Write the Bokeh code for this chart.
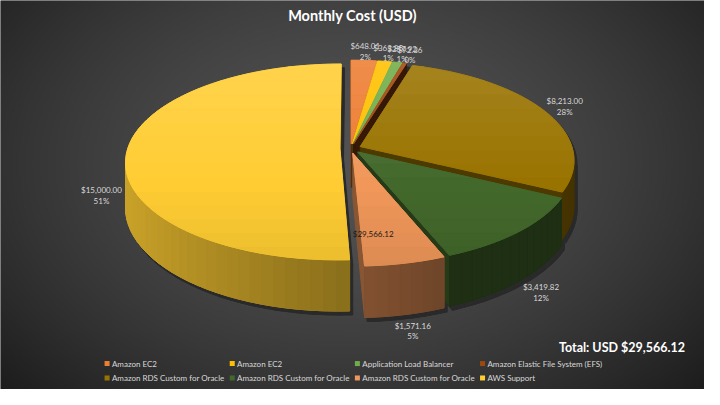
import numpy as np
from bokeh.plotting import figure
from bokeh.models import Range1d
from bokeh.embed import file_html
from bokeh.resources import INLINE
from bokeh.core.properties import value

# ---- data ----
services = ["Amazon EC2", "Amazon EC2", "Application Load Balancer",
            "Amazon Elastic File System (EFS)", "Amazon RDS Custom for Oracle",
            "Amazon RDS Custom for Oracle", "Amazon RDS Custom for Oracle", "AWS Support"]
costs = [648.01, 363.85, 257.92, 92.36, 8213.00, 3419.82, 1571.16, 15000.00]
colors = ["#ED7D31", "#FFC000", "#70AD47", "#9E480E",
          "#997300", "#43682B", "#F1975A", "#FFCD33"]
chart_title = "Monthly Cost (USD)"

# ---- pie geometry (reference pixel space, y down) ----
CX, CY = 358, 154
RA, RB = 217, 100
PERSP = 0.137
DEPTH = 46
EXPLODE = 0.05
FONT = "Lato"


def proj(u, v, z):
    f = 1.0 / (1 + PERSP * v)
    return CX + RA * u * f, 405 - (CY - RB * v * f + DEPTH * z * f)


def shade(c, k):
    rgb = [int(c[i:i + 2], 16) for i in (1, 3, 5)]
    if k >= 0:
        rgb = [x + (255 - x) * k for x in rgb]
    else:
        rgb = [x * (1 + k) for x in rgb]
    return "#%02x%02x%02x" % tuple(int(round(min(255, max(0, x)))) for x in rgb)


def area(pts):
    s = 0
    for i in range(len(pts)):
        x0, y0 = pts[i - 1]
        x1, y1 = pts[i]
        s += x0 * y1 - x1 * y0
    return s / 2


def clip(poly, keep, cut):
    out = []
    for i in range(len(poly)):
        cur, prev = poly[i], poly[i - 1]
        if keep(cur):
            if not keep(prev):
                out.append(cut(prev, cur))
            out.append(cur)
        elif keep(prev):
            out.append(cut(prev, cur))
    return out


def band(poly, lo, hi):
    def at(yc):
        def f(a, b):
            t = (yc - a[1]) / (b[1] - a[1])
            return (a[0] + t * (b[0] - a[0]), yc)
        return f
    poly = clip(poly, lambda q: q[1] >= lo, at(lo))
    if poly:
        poly = clip(poly, lambda q: q[1] <= hi, at(hi))
    return poly


def wall_shade(col, t):
    return shade(col, np.clip(0.55 - 0.25 * np.sin(t), 0.45, 0.85) - 1)


p = figure(width=704, height=389, x_range=Range1d(0, 720), y_range=Range1d(0, 405),
           output_backend="svg", toolbar_location=None, min_border=0)
p.axis.visible = False
p.grid.visible = False
p.outline_line_color = None
p.background_fill_color = "#3a3a3a"
p.border_fill_color = "#3a3a3a"

# background radial gradient
ny, nx = 203, 360
rr, cc = np.mgrid[0:ny, 0:nx]
bx = (cc + 0.5) * 720 / nx
by = 405 - (rr + 0.5) * 405 / ny
d = np.sqrt(((bx - 360) / 470) ** 2 + ((by - 170) / 330) ** 2)
lev = np.clip(82 - 50 * d ** 1.6, 25, 90).astype(np.uint8)
img = np.empty((ny, nx), dtype=np.uint32)
view = img.view(dtype=np.uint8).reshape((ny, nx, 4))
view[:, :, 0] = lev
view[:, :, 1] = lev
view[:, :, 2] = lev
view[:, :, 3] = 255
p.image_rgba(image=[img], x=0, y=0, dw=720, dh=405)

# ---- build 3D pie faces ----
total = sum(costs)
fracs = np.array(costs) / total
edges = np.concatenate([[0], np.cumsum(fracs)]) * 2 * np.pi

side_faces = []   # (depth, [faces drawn together], ...)
top_faces = []
for i, col in enumerate(colors):
    a0, a1 = edges[i], edges[i + 1]
    mid = (a0 + a1) / 2
    ou, ov = EXPLODE * np.sin(mid), EXPLODE * np.cos(mid)
    n = max(2, int(np.ceil((a1 - a0) / np.radians(3)))) + 1
    arc = np.linspace(a0, a1, n)
    ru, rv = ou + np.sin(arc), ov + np.cos(arc)
    vis = []
    for k in range(n - 1):
        quad = [proj(ru[k], rv[k], 0), proj(ru[k + 1], rv[k + 1], 0),
                proj(ru[k + 1], rv[k + 1], 1), proj(ru[k], rv[k], 1)]
        if area(quad) > 0:
            vis.append(k)
            t = (arc[k] + arc[k + 1]) / 2
            side_faces.append(((rv[k] + rv[k + 1]) / 2, quad, wall_shade(col, t)))
    if vis:
        # one underlay for the whole visible wall, hides seams between strips
        ks = list(range(vis[0], vis[-1] + 2))
        under = [proj(ru[k], rv[k], 0) for k in ks] + [proj(ru[k], rv[k], 1) for k in ks[::-1]]
        tm = arc[(ks[0] + ks[-1]) // 2]
        side_faces.append((max(rv[k] for k in ks) + 0.001, under, wall_shade(col, tm)))
    start = [proj(ou, ov, 0), proj(ru[0], rv[0], 0), proj(ru[0], rv[0], 1), proj(ou, ov, 1)]
    end = [proj(ou, ov, 0), proj(ou, ov, 1), proj(ru[-1], rv[-1], 1), proj(ru[-1], rv[-1], 0)]
    for face, ang, nu in ((start, a0, -np.cos(a0)), (end, a1, np.cos(a1))):
        if area(face) > 0:
            fac = 0.45 - 0.12 * nu
            side_faces.append(((ov + ov + np.cos(ang)) / 2, face, shade(col, fac - 1)))
    top = [proj(ou, ov, 0)] + [proj(ru[k], rv[k], 0) for k in range(n - 1, -1, -1)]
    top_faces.append((top, col))

side_faces.sort(key=lambda f: -f[0])

# shadow
sh_x, sh_y = [], []
for _, pts, _ in side_faces:
    sh_x.append([q[0] + 3 for q in pts])
    sh_y.append([q[1] - 4 for q in pts])
for pts, _ in top_faces:
    sh_x.append([q[0] + 3 for q in pts])
    sh_y.append([q[1] - 4 for q in pts])
p.patches(sh_x, sh_y, fill_color="#2a2a2a", line_color="#2a2a2a", line_width=1.2)

p.patches([[q[0] for q in f[1]] for f in side_faces],
          [[q[1] for q in f[1]] for f in side_faces],
          fill_color=[f[2] for f in side_faces], line_color=[f[2] for f in side_faces],
          line_width=1.0)

# top faces with a vertical light gradient
y_lo, y_hi = 405 - 285, 405 - 55
nb = 16
tx, ty, tc = [], [], []
for pts, col in top_faces:
    tx.append([q[0] for q in pts])
    ty.append([q[1] for q in pts])
    tc.append(shade(col, 0.02))
    for b in range(nb):
        lo = y_lo + (y_hi - y_lo) * b / nb
        hi = y_lo + (y_hi - y_lo) * (b + 1) / nb
        piece = band(pts, lo, hi)
        if len(piece) >= 3:
            t = (b + 0.5) / nb
            c = shade(col, -0.09 + 0.22 * t)
            tx.append([q[0] for q in piece])
            ty.append([q[1] for q in piece])
            tc.append(c)
p.patches(tx, ty, fill_color=tc, line_color=tc, line_width=0.8)

# ---- data labels ----
lx, ly, l1, l2 = [], [], [], []
for i, c in enumerate(costs):
    mid = (edges[i] + edges[i + 1]) / 2
    u = (1.12 + EXPLODE) * np.sin(mid)
    v = (1.12 + EXPLODE) * np.cos(mid)
    z = 1 if np.cos(mid) < 0.2 else 0
    x, y = proj(u, v, z)
    lx.append(x)
    ly.append(y)
    l1.append("${:,.2f}".format(c))
    l2.append("{:.0f}%".format(fracs[i] * 100))
p.text(x=lx, y=[y + 5.5 for y in ly], text=l1, text_font=value(FONT), text_font_size="8px",
       text_color="#d9d9d9", text_align="center", text_baseline="middle")
p.text(x=lx, y=[y - 5.5 for y in ly], text=l2, text_font=value(FONT), text_font_size="8px",
       text_color="#d9d9d9", text_align="center", text_baseline="middle")

# stray total label on the salmon slice
mid6 = (edges[6] + edges[7]) / 2
o6u, o6v = EXPLODE * np.sin(mid6), EXPLODE * np.cos(mid6)
vx, _ = proj(o6u, o6v, 0)
_, vy = proj(o6u + 0.76 * np.sin(mid6), o6v + 0.76 * np.cos(mid6), 0)
p.text(x=[vx], y=[vy], text=["${:,.2f}".format(total)], text_font=value(FONT),
       text_font_size="8px", text_color="#1a1a1a", text_align="left", text_baseline="middle")

# ---- title & total ----
p.text(x=[360], y=[405 - 16], text=[chart_title], text_font=value(FONT),
       text_font_size="14.5px", text_font_style="bold", text_color="#ffffff",
       text_align="center", text_baseline="middle")
p.text(x=[700], y=[405 - 361], text=["Total: USD ${:,.2f}".format(total)], text_font=value(FONT),
       text_font_size="12.5px", text_font_style="bold", text_color="#ffffff",
       text_align="right", text_baseline="middle")

# ---- legend (4 columns x 2 rows) ----
gx = [109 + 128 * (i % 4) for i in range(len(services))]
gy = [405 - (378 + 15 * (i // 4)) for i in range(len(services))]
p.scatter(gx, gy, marker="square", size=5, fill_color=colors, line_color=None)
p.text(x=[x + 5 for x in gx], y=gy, text=services, text_font=value(FONT), text_font_size="8px",
       text_color="#d9d9d9", text_align="left", text_baseline="middle")

open("out.html", "w").write(file_html(p, INLINE))
